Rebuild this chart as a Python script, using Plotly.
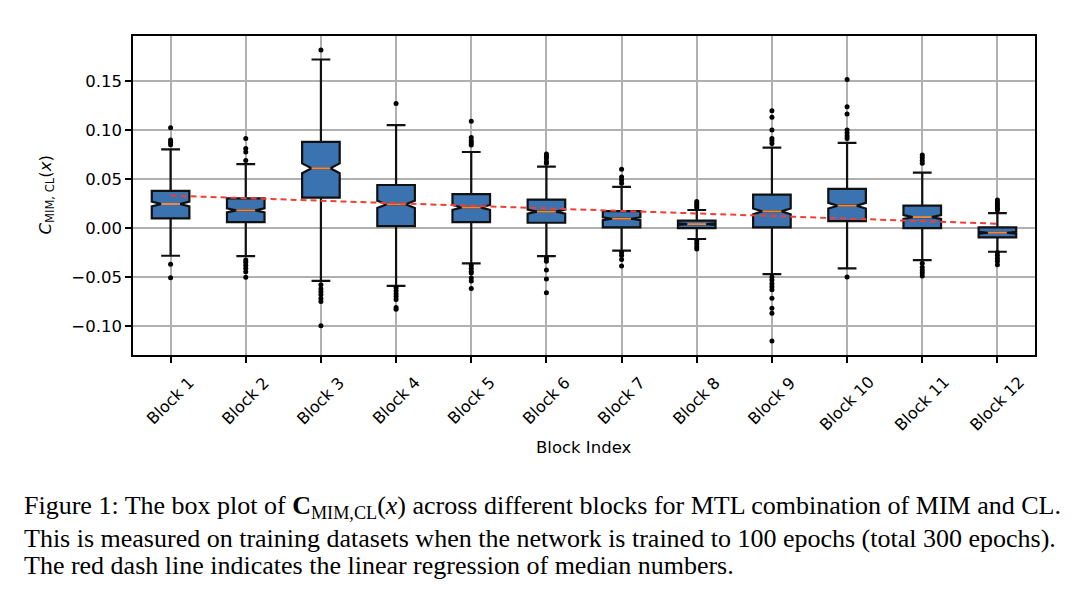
import numpy as np
import plotly.graph_objects as go

blocks = [f"Block {i}" for i in range(1, 13)]
positions = list(range(1, 13))

q1 = [0.0099, 0.0061, 0.031, 0.002, 0.0061, 0.0054, 0.0007, 0.0, 0.0007, 0.0071, 0.0, -0.0095]
median = [0.0245, 0.018, 0.061, 0.0242, 0.021, 0.0167, 0.0095, 0.004, 0.017, 0.0228, 0.0112, -0.0048]
q3 = [0.038, 0.0303, 0.088, 0.0439, 0.0347, 0.029, 0.0173, 0.0075, 0.034, 0.040, 0.0228, 0.0007]
lower_whisker = [-0.0283, -0.0286, -0.054, -0.059, -0.036, -0.0286, -0.023, -0.0112, -0.047, -0.0412, -0.0327, -0.0242]
upper_whisker = [0.0803, 0.0653, 0.172, 0.105, 0.0776, 0.0626, 0.042, 0.0184, 0.082, 0.087, 0.0565, 0.0153]
notch_half = [0.0025, 0.0021, 0.005, 0.0037, 0.0025, 0.0021, 0.0015, 0.0007, 0.0029, 0.0029, 0.002, 0.0009]

outliers = [
    [0.1024, 0.0898, 0.0875, 0.085, -0.037, -0.0507],
    [0.0915, 0.0813, 0.0776, 0.069, -0.0327, -0.035, -0.038, -0.041, -0.0446, -0.0503],
    [0.1816, -0.058, -0.062, -0.065, -0.068, -0.072, -0.075, -0.0997],
    [0.127, -0.061, -0.064, -0.067, -0.070, -0.073, -0.081, -0.083],
    [0.109, 0.0925, 0.089, 0.087, 0.0847, -0.038, -0.041, -0.044, -0.046, -0.051, -0.054, -0.0616],
    [0.0755, 0.073, 0.071, 0.068, 0.066, -0.031, -0.034, -0.0429, -0.052, -0.066],
    [0.0599, 0.052, 0.049, 0.0456, -0.025, -0.028, -0.032, -0.0388],
    [0.0272, 0.025, 0.023, 0.021, -0.0133, -0.016, -0.019, -0.0214],
    [0.1197, 0.113, 0.100, 0.0915, 0.089, 0.0864, -0.050, -0.053, -0.057, -0.060, -0.063, -0.0718, -0.082, -0.087, -0.1153],
    [0.1517, 0.1238, 0.1163, 0.100, 0.097, 0.094, 0.0915, -0.050],
    [0.0745, 0.072, 0.069, 0.066, -0.036, -0.040, -0.043, -0.046, -0.049],
    [0.0286, 0.026, 0.024, 0.022, 0.0200, 0.0184, -0.025, -0.028, -0.031, -0.034, -0.0376],
]

y_tickvals = [-0.10, -0.05, 0.0, 0.05, 0.10, 0.15]
y_ticktext = ["\u22120.10", "\u22120.05", "0.00", "0.05", "0.10", "0.15"]

BOX_W = 0.5
fig = go.Figure()

fig.add_trace(go.Box(
    x=positions, q1=q1, median=median, q3=q3,
    lowerfence=lower_whisker, upperfence=upper_whisker,
    notchspan=notch_half, notched=True, notchwidth=0.25,
    width=BOX_W, whiskerwidth=0.5, boxpoints=False,
    fillcolor="#3b72b0", line=dict(color="#111111", width=2.2),
    showlegend=False, hoverinfo="skip",
))

# outliers
ox, oy = [], []
for p, vals in zip(positions, outliers):
    ox += [p] * len(vals)
    oy += vals
fig.add_trace(go.Scatter(x=ox, y=oy, mode="markers",
                         marker=dict(color="black", size=5),
                         showlegend=False, hoverinfo="skip"))

# medians (orange)
mx, my = [], []
for p, m in zip(positions, median):
    mx += [p - BOX_W / 4, p + BOX_W / 4, None]
    my += [m, m, None]
fig.add_trace(go.Scatter(x=mx, y=my, mode="lines",
                         line=dict(color="#f0873a", width=2),
                         showlegend=False, hoverinfo="skip"))

# linear regression of medians
coef = np.polyfit(positions, median, 1)
rx = [positions[0], positions[-1]]
ry = list(np.polyval(coef, rx))
fig.add_trace(go.Scatter(x=rx, y=ry, mode="lines",
                         line=dict(color="#ee4035", width=2, dash="6px,4px"),
                         showlegend=False, hoverinfo="skip"))

L, R, T, B = 133, 45, 36, 250
W, H = 1080, 605
PW, PH = W - L - R, H - T - B


def py(pix):
    return (H - B - pix) / PH


def px(pix):
    return (pix - L) / PW


fig.update_layout(
    width=W, height=H,
    margin=dict(l=L, r=R, t=T, b=B, autoexpand=False),
    paper_bgcolor="white", plot_bgcolor="white",
    font=dict(family="DejaVu Sans", size=16.5, color="black"),
    xaxis=dict(
        range=[0.5, 12.5], tickmode="array", tickvals=positions, showticklabels=False,
        showgrid=True, gridcolor="#b0b0b0", gridwidth=1.5,
        zeroline=False, showline=True, mirror=True, linecolor="black", linewidth=1.5,
        ticks="outside", ticklen=6, tickwidth=1.5, tickcolor="black",
        automargin=False,
    ),
    yaxis=dict(
        range=[-0.1296, 0.196], tickmode="array", tickvals=y_tickvals, ticktext=y_ticktext,
        showgrid=True, gridcolor="#b0b0b0", gridwidth=1.5,
        zeroline=False, showline=True, mirror=True, linecolor="black", linewidth=1.5,
        ticks="outside", ticklen=6, tickwidth=1.5, tickcolor="black",
        automargin=False,
    ),
)

# rotated x tick labels (centered under ticks, like matplotlib rotation=45)
for p, lab in zip(positions, blocks):
    fig.add_annotation(text=lab, xref="x", yref="paper", x=p, y=py(370),
                       xanchor="center", yanchor="top", textangle=-45, showarrow=False,
                       font=dict(family="DejaVu Sans", size=16, color="black"))

fig.add_annotation(text="Block Index", xref="paper", yref="paper", x=0.5, y=py(447),
                   xanchor="center", yanchor="middle", showarrow=False,
                   font=dict(family="DejaVu Sans", size=16.5, color="black"))

fig.add_annotation(text="<i>C</i><sub>MIM, CL</sub>(<i>x</i>)", xref="paper", yref="paper",
                   x=px(46), y=0.5, xanchor="center", yanchor="middle", textangle=-90,
                   showarrow=False, font=dict(family="DejaVu Sans", size=16.5, color="black"))

captions = [
    "Figure 1: The box plot of <b>C</b><sub>MIM,CL</sub>(<i>x</i>) across different blocks for MTL combination of MIM and CL.",
    "This is measured on training datasets when the network is trained to 100 epochs (total 300 epochs).",
    "The red dash line indicates the linear regression of median numbers.",
]
cap_y = [507, 538, 565]
for text, yp in zip(captions, cap_y):
    fig.add_annotation(
        text=text, xref="paper", yref="paper",
        x=px(22), y=py(yp),
        xanchor="left", yanchor="middle", showarrow=False, align="left",
        font=dict(family="Liberation Serif", size=26, color="black"),
    )

fig.write_html("out.html")
